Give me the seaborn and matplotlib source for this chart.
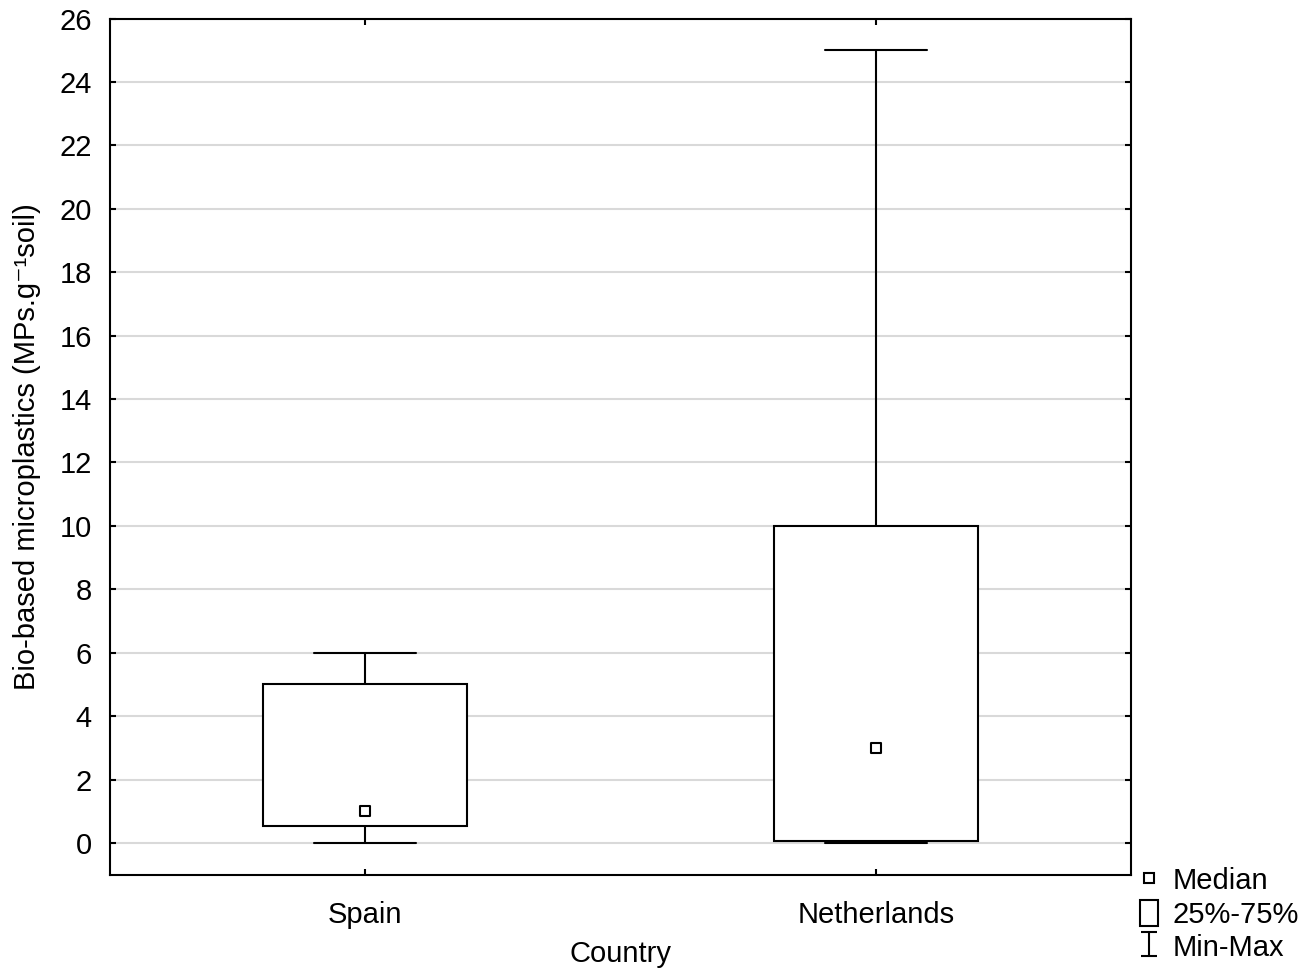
import numpy as np
import pandas as pd
import matplotlib
matplotlib.use("Agg")
import matplotlib.pyplot as plt
from matplotlib.lines import Line2D
from matplotlib.patches import Rectangle
from matplotlib.path import Path
import seaborn as sns

# Five-number summaries per country
countries = ["Spain", "Netherlands"]
mins = [0.0, 0.0]
q1s = [0.55, 0.05]
medians = [1.0, 3.0]
q3s = [5.0, 10.0]
maxs = [6.0, 25.0]

y_ticks = list(range(0, 27, 2))

sns.set_theme(style="white")
plt.rcParams["font.family"] = ["Liberation Sans", "DejaVu Sans"]
plt.rcParams["font.size"] = 21
plt.rcParams["text.color"] = "black"
plt.rcParams["axes.labelcolor"] = "black"

# Five points per group reproduce the summary exactly (linear percentiles)
rows = []
for c, a, b, m, d, e in zip(countries, mins, q1s, medians, q3s, maxs):
    for v in (a, b, m, d, e):
        rows.append({"Country": c, "value": v})
df = pd.DataFrame(rows)
med_df = pd.DataFrame({"Country": countries, "value": medians})

fig = plt.figure(figsize=(13.02, 9.69), dpi=100)
ax = fig.add_axes([110 / 1302, 1 - 874.7 / 969, 1021 / 1302, 856.2 / 969])

lw = 1.5
sns.boxplot(
    data=df, x="Country", y="value", order=countries, whis=(0, 100),
    width=0.4, color="white", linecolor="black", linewidth=lw,
    showfliers=False, ax=ax, zorder=3,
    medianprops={"visible": False},
    boxprops={"facecolor": "white", "edgecolor": "black", "linewidth": lw},
    whiskerprops={"color": "black", "linewidth": lw},
    capprops={"color": "black", "linewidth": lw},
)
sns.scatterplot(
    data=med_df, x="Country", y="value", marker="s", s=60,
    color="white", edgecolor="black", linewidth=1.5, ax=ax, zorder=4,
)

ax.set_xlim(-0.5, 1.5)
ax.set_ylim(-1, 26)
ax.set_yticks(y_ticks)
ax.set_yticklabels([str(t) for t in y_ticks])
ax.yaxis.grid(True, color="#d9d9d9", linewidth=1.5, zorder=0)
ax.xaxis.grid(False)
ax.set_axisbelow(True)

for s in ax.spines.values():
    s.set_visible(True)
    s.set_color("black")
    s.set_linewidth(1.5)

ax.tick_params(axis="both", direction="in", length=4, width=1.5, color="black",
               labelsize=21, labelcolor="black")
ax.tick_params(axis="y", right=True, left=True, pad=13)
ax.tick_params(axis="x", top=True, bottom=True, pad=19)

ax.set_xlabel("Country", fontsize=21, color="black", labelpad=8)
ax.set_ylabel("Bio-based microplastics (MPs.g\u207b\u00b9soil)", fontsize=21,
              color="black", labelpad=13)

# Legend glyphs
ibeam = Path(
    [(-0.35, 0.5), (0.35, 0.5), (0, 0.5), (0, -0.5), (-0.35, -0.5), (0.35, -0.5)],
    [Path.MOVETO, Path.LINETO, Path.MOVETO, Path.LINETO, Path.MOVETO, Path.LINETO],
)
h_med = Line2D([], [], linestyle="none", marker="s", markersize=6.5,
               markerfacecolor="white", markeredgecolor="black", markeredgewidth=1.5)
h_box = Rectangle((0, 0), 1, 1, facecolor="white", edgecolor="black", linewidth=1.5)
h_rng = Line2D([], [], linestyle="none", marker=ibeam, markersize=17,
               markerfacecolor="none", markeredgecolor="black", markeredgewidth=1.5)
leg = ax.legend(
    [h_med, h_box, h_rng], ["Median", "25%-75%", "Min-Max"],
    loc="upper left", bbox_to_anchor=(1.009, 0.01), frameon=False,
    borderaxespad=0, borderpad=0, handlelength=0.6, handleheight=1.0,
    handletextpad=0.5, labelspacing=0.15, fontsize=21, labelcolor="black",
)

fig.savefig("out.png", dpi=100, facecolor="white")
